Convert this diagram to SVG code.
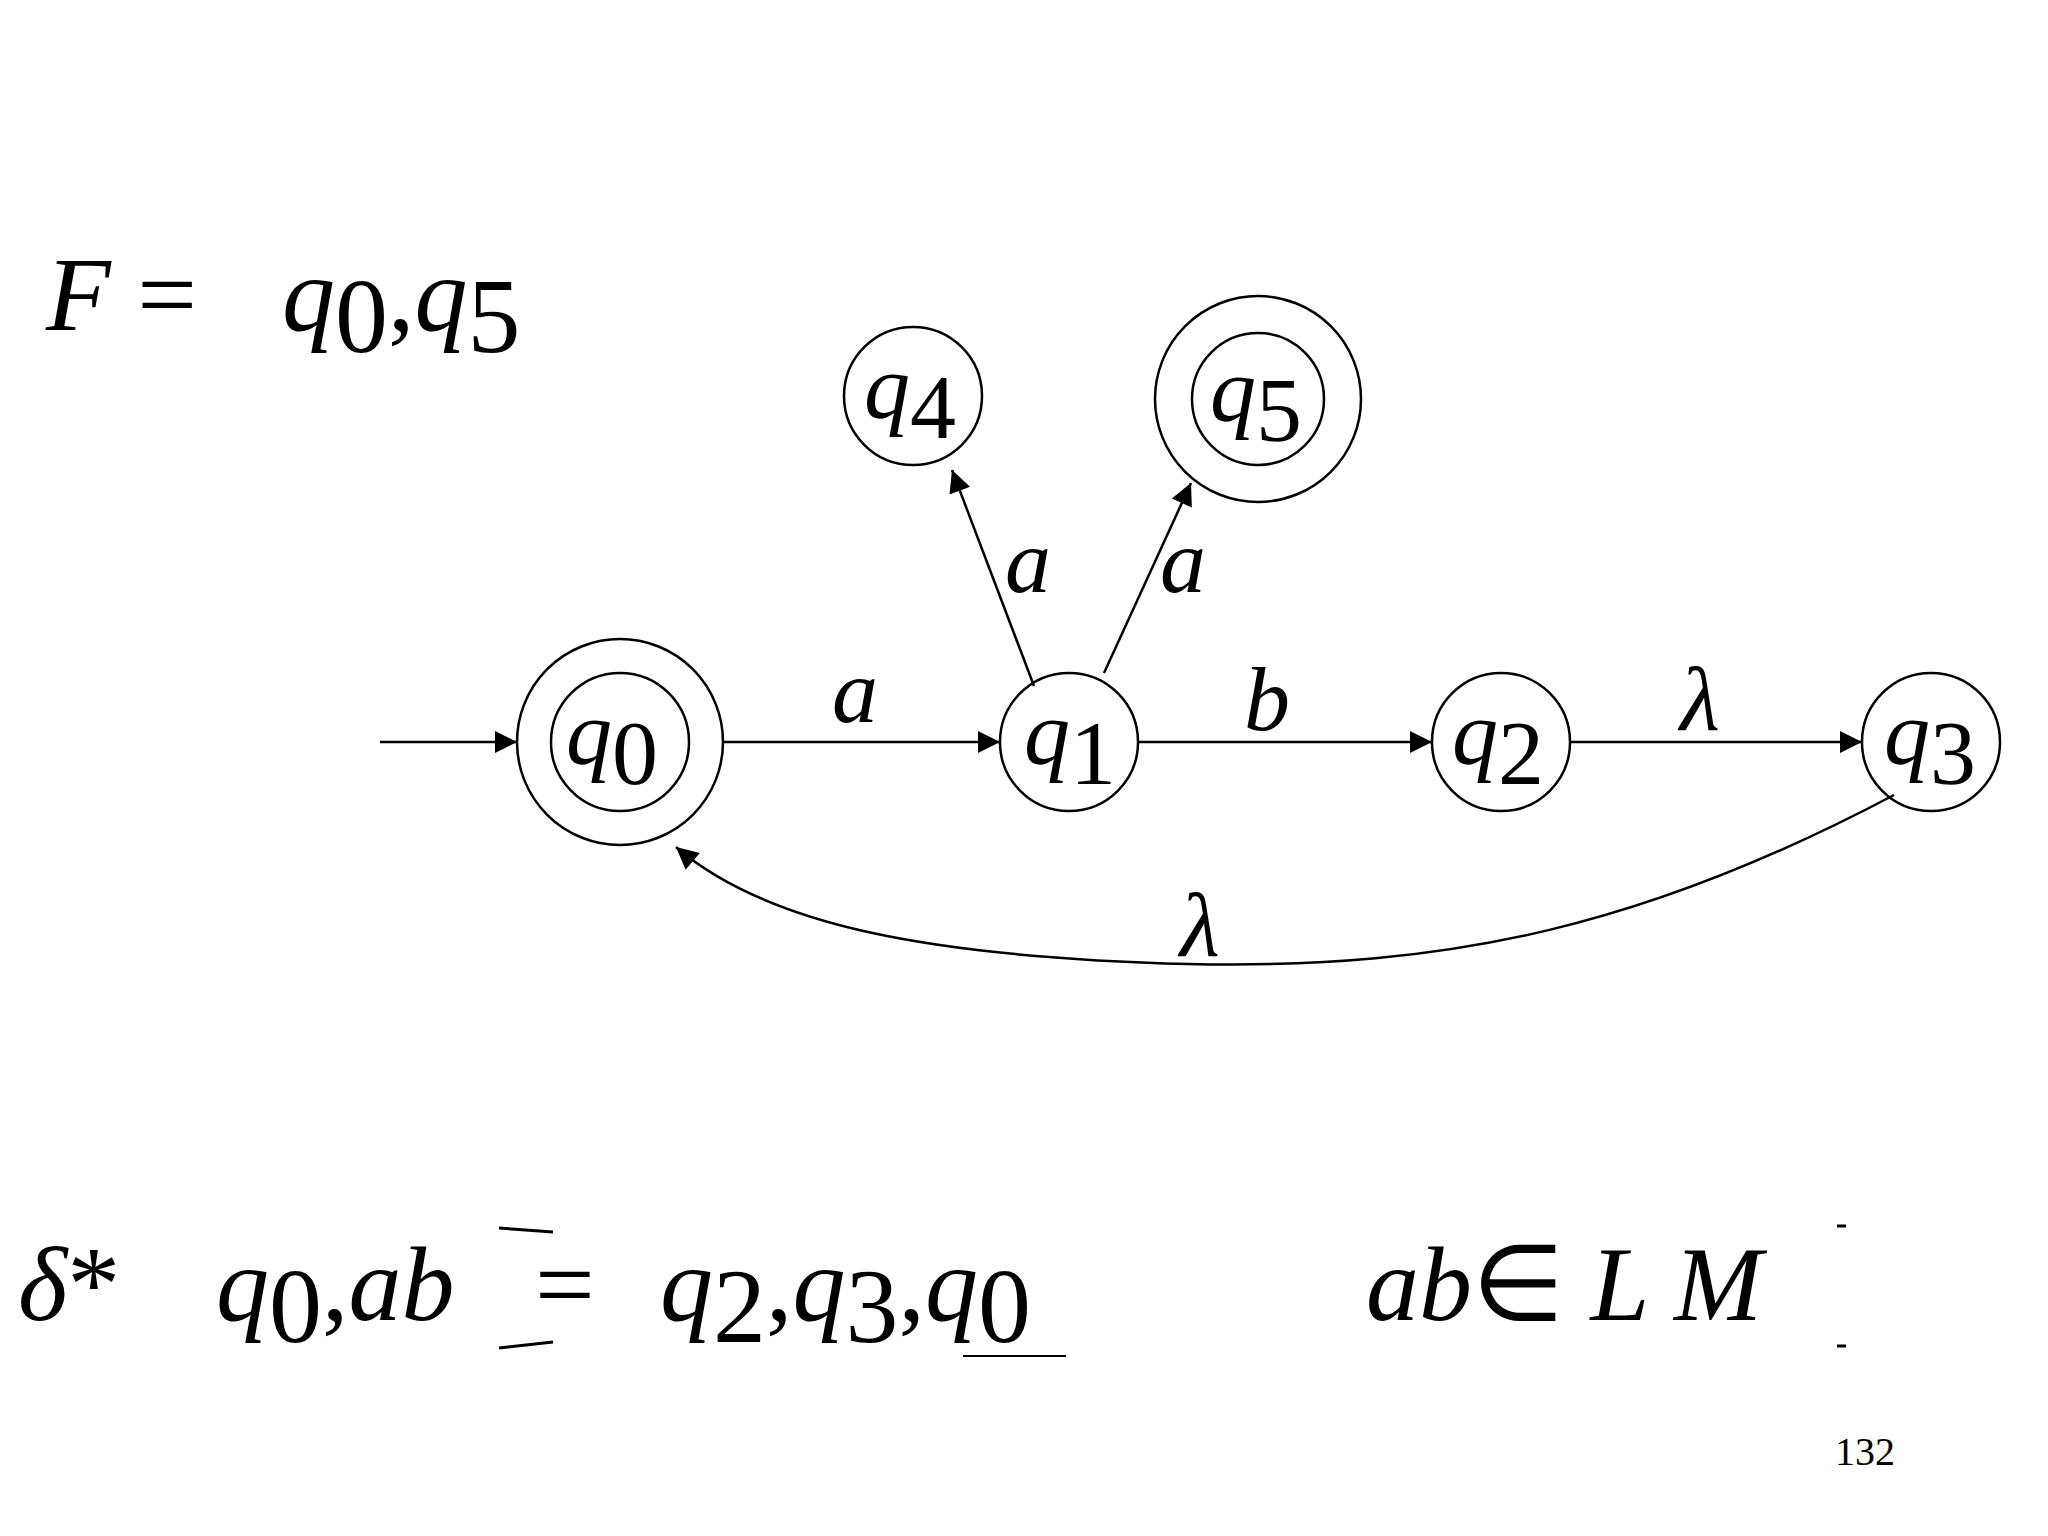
<svg xmlns="http://www.w3.org/2000/svg" width="2048" height="1536" viewBox="0 0 2048 1536">
<style>
.n{fill:none;stroke:#000;stroke-width:2.5}
.e{fill:none;stroke:#000;stroke-width:2.5;marker-end:url(#ah)}
.t{font-family:"Liberation Serif",serif;font-style:italic;fill:#000}
.r{font-family:"Liberation Serif",serif;fill:#000}
</style>
<defs><marker id="ah" viewBox="0 0 10 10" refX="10" refY="5" markerWidth="10" markerHeight="10" markerUnits="userSpaceOnUse" orient="auto"><path d="M0 0L10 5L0 10z" fill="#000"/></marker>
<marker id="ah2" viewBox="0 0 10 10" refX="10" refY="5" markerWidth="26" markerHeight="22" markerUnits="userSpaceOnUse" orient="auto"><path d="M0 0L10 5L0 10z" fill="#000"/></marker></defs>
<rect width="2048" height="1536" fill="#fff"/>
<g id="edges" style="marker-end:url(#ah2)">
<line class="e" x1="380" y1="742" x2="517" y2="742" style="marker-end:url(#ah2)"/>
<line class="e" x1="723" y1="742" x2="1000" y2="742" style="marker-end:url(#ah2)"/>
<line class="e" x1="1138" y1="742" x2="1432" y2="742" style="marker-end:url(#ah2)"/>
<line class="e" x1="1571" y1="742" x2="1862" y2="742" style="marker-end:url(#ah2)"/>
<line class="e" x1="1034" y1="686" x2="952" y2="470" style="marker-end:url(#ah2)"/>
<line class="e" x1="1104" y1="673" x2="1191" y2="483" style="marker-end:url(#ah2)"/>
<path class="e" d="M1894 795 C1650 924 1452 970 1188 964 C924 957 766 924 676 847" style="marker-end:url(#ah2)"/>
<text class="t" x="832" y="722" font-size="92">a</text>
<text class="t" x="1244" y="730" font-size="92">b</text>
<text class="t" x="1680" y="730" font-size="92">λ</text>
<text class="t" x="1180" y="956" font-size="92">λ</text>
<text class="t" x="1005" y="592" font-size="92">a</text>
<text class="t" x="1160" y="592" font-size="92">a</text>
</g>
<g id="q0"><circle class="n" cx="620" cy="742" r="103"/><circle class="n" cx="620" cy="742" r="69"/><text class="t" x="566" y="764" font-size="92">q<tspan class="r" font-style="normal" dy="20">0</tspan></text></g>
<g id="q1"><circle class="n" cx="1069" cy="742" r="69"/><text class="t" x="1024" y="764" font-size="92">q<tspan font-style="normal" dy="20">1</tspan></text></g>
<g id="q2"><circle class="n" cx="1501" cy="742" r="69"/><text class="t" x="1452" y="764" font-size="92">q<tspan font-style="normal" dy="20">2</tspan></text></g>
<g id="q3"><circle class="n" cx="1931" cy="742" r="69"/><text class="t" x="1884" y="764" font-size="92">q<tspan font-style="normal" dy="20">3</tspan></text></g>
<g id="q4"><circle class="n" cx="913" cy="396" r="69"/><text class="t" x="864" y="418" font-size="92">q<tspan font-style="normal" dy="20">4</tspan></text></g>
<g id="q5"><circle class="n" cx="1258" cy="399" r="103"/><circle class="n" cx="1258" cy="399" r="66"/><text class="t" x="1210" y="421" font-size="92">q<tspan font-style="normal" dy="20">5</tspan></text></g>
<text class="t" x="46" y="330" font-size="106">F <tspan font-style="normal">=</tspan></text>
<text class="t" x="282" y="330" font-size="106">q<tspan font-style="normal" dy="22">0</tspan><tspan font-style="normal" dy="-22">,</tspan>q<tspan font-style="normal" dy="22">5</tspan></text>
<text class="t" x="18" y="1320" font-size="106">δ<tspan font-style="normal">*</tspan></text>
<text class="t" x="216" y="1320" font-size="106">q<tspan font-style="normal" dy="22">0</tspan><tspan font-style="normal" dy="-22">,</tspan>ab</text>
<text class="r" x="535" y="1320" font-size="106">=</text>
<text class="t" x="660" y="1320" font-size="106">q<tspan font-style="normal" dy="22">2</tspan><tspan font-style="normal" dy="-22">,</tspan>q<tspan font-style="normal" dy="22">3</tspan><tspan font-style="normal" dy="-22">,</tspan>q<tspan font-style="normal" dy="22">0</tspan></text>
<line x1="963" y1="1356" x2="1066" y2="1356" stroke="#000" stroke-width="2"/>
<path d="M499 1228 L553 1232 M499 1348 L553 1342 M1837 1226 L1846 1226 M1837 1346 L1846 1346" stroke="#000" stroke-width="3"/>
<text class="t" x="1366" y="1320" font-size="106">ab<tspan font-style="normal">∈</tspan> L  M</text>
<text class="r" x="1835" y="1465" font-size="40">132</text>
</svg>
